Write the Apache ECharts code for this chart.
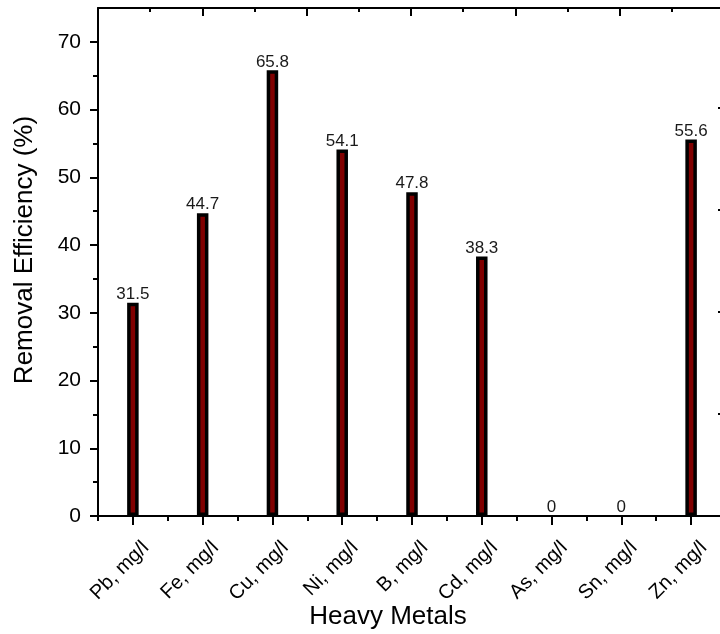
<!DOCTYPE html>
<html>
<head>
<meta charset="utf-8">
<script src="https://cdn.jsdelivr.net/npm/echarts@6/dist/echarts.min.js"></script>
<style>
html,body{margin:0;padding:0;background:#fff;}
#chart{width:720px;height:634px;}
</style>
</head>
<body>
<div id="chart"></div>
<script>
const categories = ['Pb, mg/l','Fe, mg/l','Cu, mg/l','Ni, mg/l','B, mg/l','Cd, mg/l','As, mg/l','Sn, mg/l','Zn, mg/l'];
const removalEfficiency = [31.5, 44.7, 65.8, 54.1, 47.8, 38.3, 0, 0, 55.6];
const yMajorTicks = [0,10,20,30,40,50,60,70];
const yMinorTicks = [5,15,25,35,45,55,65];
const rightTicks = [1,2,3,4];

const FONT = 'Liberation Sans, Arial, sans-serif';
const chart = echarts.init(document.getElementById('chart'));
const lineStyle = {color:'#000', width:2};
const gridRect = {left:98, top:8, width:628, height:508, outerBoundsMode:'none', containLabel:false};
chart.setOption({
  animation:false,
  backgroundColor:'#fff',
  grid:[Object.assign({}, gridRect), Object.assign({}, gridRect)],
  xAxis:[
    {
      gridIndex:0, type:'category', data:categories, position:'bottom',
      axisLine:{show:true, onZero:false, lineStyle:lineStyle},
      axisTick:{show:true, alignWithLabel:true, length:9, lineStyle:lineStyle},
      axisLabel:{rotate:45, interval:0, margin:16, align:'right', verticalAlign:'top', lineHeight:36,
        fontFamily:FONT, fontSize:20, color:'#000'},
      name:'Heavy Metals', nameLocation:'middle', nameGap:88, nameMoveOverlap:false,
      nameTextStyle:{fontFamily:FONT, fontSize:26, color:'#000', padding:[0,48,0,0]}
    },
    {
      gridIndex:0, type:'value', min:0, max:6.02, interval:1, position:'top',
      axisLine:{show:true, onZero:false, lineStyle:lineStyle},
      axisTick:{show:true, inside:true, length:8, lineStyle:lineStyle},
      minorTick:{show:true, splitNumber:2, length:4, lineStyle:lineStyle},
      axisLabel:{show:false}, splitLine:{show:false}, minorSplitLine:{show:false}
    },
    {
      gridIndex:1, type:'category', data:categories, position:'bottom',
      axisLine:{show:false, onZero:false},
      axisTick:{show:true, alignWithLabel:false, length:5, lineStyle:lineStyle},
      axisLabel:{show:false}
    }
  ],
  yAxis:[
    {
      gridIndex:0, type:'value', min:0, max:75, interval:10, position:'left',
      axisLine:{show:true, onZero:false, lineStyle:lineStyle},
      axisTick:{show:true, length:8, customValues:yMajorTicks, lineStyle:lineStyle},
      axisLabel:{customValues:yMajorTicks, margin:17, fontFamily:FONT, fontSize:21, color:'#000'},
      splitLine:{show:false},
      name:'Removal Efficiency (%)', nameLocation:'middle', nameGap:60, nameRotate:90, nameMoveOverlap:false,
      nameTextStyle:{fontFamily:FONT, fontSize:26, color:'#000', padding:[0,0,0,24]}
    },
    {
      gridIndex:0, type:'value', min:0, max:4.98, position:'right',
      axisLine:{show:true, onZero:false, lineStyle:lineStyle},
      axisTick:{show:true, inside:true, length:8, customValues:rightTicks, lineStyle:lineStyle},
      axisLabel:{show:false}, splitLine:{show:false}
    },
    {
      gridIndex:1, type:'value', min:0, max:75, position:'left',
      axisLine:{show:false, onZero:false},
      axisTick:{show:true, length:5, customValues:yMinorTicks, lineStyle:lineStyle},
      axisLabel:{show:false}, splitLine:{show:false}
    }
  ],
  series:[{
    type:'bar', xAxisIndex:0, yAxisIndex:0,
    data:removalEfficiency.map(v => v === 0 ? {value:v, itemStyle:{borderWidth:0}} : v),
    barWidth:11.5,
    itemStyle:{color:'#800000', borderColor:'#000', borderWidth:3.5},
    label:{show:true, position:'top', distance:0, fontFamily:FONT, fontSize:17, color:'#1a1a1a'}
  }]
});
</script>
</body>
</html>
